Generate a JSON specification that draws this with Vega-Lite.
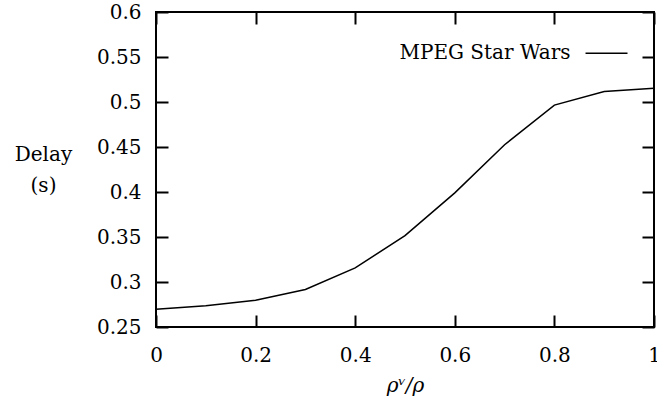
{
  "$schema": "https://vega.github.io/schema/vega-lite/v6.json",
  "width": 498,
  "height": 315,
  "autosize": {"type": "none"},
  "padding": {"left": 156, "top": 12, "right": 3, "bottom": 75},
  "background": "white",
  "config": {
    "view": {"stroke": "black", "strokeWidth": 2},
    "font": "DejaVu Serif",
    "axis": {
      "grid": false,
      "domain": false,
      "tickColor": "black",
      "tickWidth": 2,
      "tickSize": -12,
      "labelFont": "DejaVu Serif",
      "labelFontSize": 20,
      "labelColor": "black",
      "titleFont": "DejaVu Serif",
      "titleFontSize": 20,
      "titleFontWeight": "normal",
      "titleColor": "black"
    }
  },
  "datasets": {
    "curve": [
      {"x": 0.0, "y": 0.2697},
      {"x": 0.1, "y": 0.2735},
      {"x": 0.2, "y": 0.2797},
      {"x": 0.3, "y": 0.2916},
      {"x": 0.4, "y": 0.3157},
      {"x": 0.5, "y": 0.3515},
      {"x": 0.6, "y": 0.399},
      {"x": 0.7, "y": 0.4525},
      {"x": 0.8, "y": 0.4965},
      {"x": 0.9, "y": 0.5116},
      {"x": 1.0, "y": 0.5154}
    ],
    "key": [
      {"label": "MPEG Star Wars"}
    ]
  },
  "resolve": {"axis": {"x": "independent", "y": "independent"}},
  "layer": [
    {
      "data": {"name": "curve"},
      "mark": {"type": "line", "color": "black", "strokeWidth": 1.5},
      "encoding": {
        "x": {
          "field": "x", "type": "quantitative",
          "scale": {"domain": [0, 1], "nice": false, "zero": false},
          "axis": {"orient": "bottom", "values": [0, 0.2, 0.4, 0.6, 0.8, 1], "format": "~g", "labelPadding": 30, "title": "ρᵛ/ρ", "titleFontStyle": "italic", "titlePadding": 10, "labelFlush": false}
        },
        "y": {
          "field": "y", "type": "quantitative",
          "scale": {"domain": [0.25, 0.6], "nice": false, "zero": false},
          "axis": {"orient": "left", "values": [0.25, 0.3, 0.35, 0.4, 0.45, 0.5, 0.55, 0.6], "format": ".2~f", "labelPadding": 27, "labelFlush": false, "title": ["Delay", "(s)"], "titleAngle": 0, "titleAlign": "center", "titleBaseline": "middle", "titleX": -113, "titleY": 142, "titleLineHeight": 31}
        }
      }
    },
    {
      "data": {"name": "curve"},
      "mark": {"type": "line", "opacity": 0},
      "encoding": {
        "x": {"field": "x", "type": "quantitative", "axis": {"orient": "top", "values": [0, 0.2, 0.4, 0.6, 0.8, 1], "labels": false, "title": null}},
        "y": {"field": "y", "type": "quantitative", "axis": {"orient": "right", "values": [0.25, 0.3, 0.35, 0.4, 0.45, 0.5, 0.55, 0.6], "labels": false, "title": null}}
      }
    },
    {
      "data": {"name": "key"},
      "mark": {"type": "text", "align": "right", "baseline": "middle", "fontSize": 20, "font": "DejaVu Serif", "color": "black"},
      "encoding": {
        "x": {"datum": 0.8323, "type": "quantitative", "axis": null},
        "y": {"datum": 0.5542, "type": "quantitative", "axis": null},
        "text": {"field": "label"}
      }
    },
    {
      "data": {"name": "key"},
      "mark": {"type": "rule", "color": "black", "strokeWidth": 1.5},
      "encoding": {
        "x": {"datum": 0.8625, "type": "quantitative", "axis": null},
        "x2": {"datum": 0.9468},
        "y": {"datum": 0.5542, "type": "quantitative", "axis": null}
      }
    }
  ]
}
